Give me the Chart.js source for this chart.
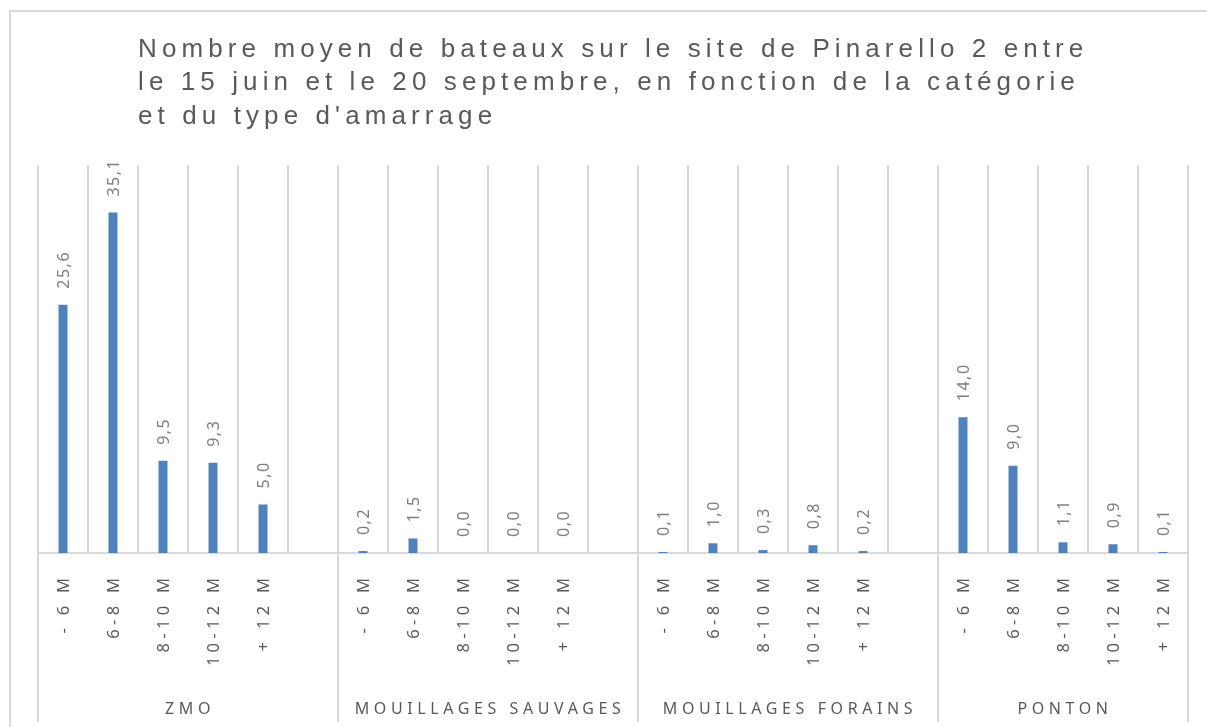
<!DOCTYPE html>
<html>
<head>
<meta charset="utf-8">
<script src="https://cdn.jsdelivr.net/npm/chart.js@4.4.1/dist/chart.umd.min.js"></script>
<style>
  html, body { margin: 0; padding: 0; background: #fff; }
  #wrap { position: relative; width: 1207px; height: 727px; }
  #frame { position: absolute; left: 9px; top: 10px; width: 1210px; height: 730px; border: 2px solid #d9d9d9; box-sizing: border-box; pointer-events: none; }
  canvas { position: absolute; left: 0; top: 0; }
</style>
</head>
<body>
<div id="wrap">
  <canvas id="c" width="1207" height="727"></canvas>
  <div id="frame"></div>
</div>
<script>
// ---- Data ----
const titleLines = [
  "Nombre moyen de bateaux sur le site de Pinarello 2 entre",
  "le 15 juin et le 20 septembre, en fonction de la catégorie",
  "et du type d'amarrage"
];
const groups = ["ZMO", "MOUILLAGES SAUVAGES", "MOUILLAGES FORAINS", "PONTON"];
const sizes = ["- 6 M", "6-8 M", "8-10 M", "10-12 M", "+ 12 M"];
const zmo = [25.6, 35.1, 9.5, 9.3, 5.0];
const sauvages = [0.2, 1.5, 0.0, 0.0, 0.0];
const forains = [0.1, 1.0, 0.3, 0.8, 0.2];
const ponton = [14.0, 9.0, 1.1, 0.9, 0.1];
const yMax = 40;

// Build category list: 5 sizes per group plus an empty spacer between groups
const seriesByGroup = [zmo, sauvages, forains, ponton];
const labels = [];
const values = [];
const groupOf = [];
seriesByGroup.forEach((arr, g) => {
  sizes.forEach((s, i) => { labels.push(s); values.push(arr[i]); groupOf.push(g); });
  if (g < seriesByGroup.length - 1) { labels.push(""); values.push(null); groupOf.push(g); }
});

const TEXT = "#595959";
const LABEL = "#7f7f7f";
const GRID = "#d9d9d9";
const FONT = "'Noto Sans', 'DejaVu Sans', sans-serif";

const decor = {
  id: 'decor',
  afterDraw(chart) {
    const ctx = chart.ctx;
    const xs = chart.scales.x, ys = chart.scales.y;
    const area = chart.chartArea;
    const step = xs.getPixelForValue(1) - xs.getPixelForValue(0);
    ctx.save();

    // Title
    ctx.fillStyle = TEXT;
    ctx.font = "26px 'Liberation Sans', Arial, sans-serif";
    ctx.letterSpacing = "5.1px";
    ctx.textAlign = 'left';
    ctx.textBaseline = 'alphabetic';
    titleLines.forEach((t, i) => ctx.fillText(t, 138, 56.5 + i * 33.5));

    // Group separators below the axis
    ctx.strokeStyle = GRID;
    ctx.lineWidth = 2;
    const bounds = [];
    let start = 0;
    for (let i = 1; i <= labels.length; i++) {
      if (i === labels.length || groupOf[i] !== groupOf[i - 1]) {
        const x0 = xs.getPixelForValue(start) - step / 2;
        const x1 = xs.getPixelForValue(i - 1) + step / 2;
        bounds.push([x0, x1, groupOf[start]]);
        start = i;
      }
    }
    const edges = new Set();
    bounds.forEach(b => { edges.add(Math.round(b[0])); edges.add(Math.round(b[1])); });
    edges.forEach(x => {
      ctx.beginPath();
      ctx.moveTo(x, area.bottom);
      ctx.lineTo(x, 722);
      ctx.stroke();
    });

    // Category labels (rotated)
    ctx.fillStyle = TEXT;
    ctx.font = "16.5px " + FONT;
    ctx.letterSpacing = "4.3px";
    ctx.textAlign = 'right';
    ctx.textBaseline = 'middle';
    labels.forEach((l, i) => {
      if (!l) return;
      const x = xs.getPixelForValue(i);
      ctx.save();
      ctx.translate(x + 1, 578);
      ctx.rotate(-Math.PI / 2);
      ctx.fillText(l, 4.3, 0);
      ctx.restore();
    });

    // Group labels
    ctx.font = "16px " + FONT;
    ctx.letterSpacing = "4.6px";
    ctx.textAlign = 'center';
    ctx.textBaseline = 'middle';
    bounds.forEach(b => {
      ctx.fillText(groups[b[2]], (b[0] + b[1]) / 2 + 2, 709);
    });

    // Data labels (rotated)
    ctx.fillStyle = LABEL;
    ctx.font = "16px " + FONT;
    ctx.letterSpacing = "1.5px";
    ctx.textAlign = 'left';
    ctx.textBaseline = 'middle';
    values.forEach((v, i) => {
      if (v === null) return;
      const x = xs.getPixelForValue(i);
      const y = ys.getPixelForValue(v);
      ctx.save();
      ctx.translate(x + 1, y - 16);
      ctx.rotate(-Math.PI / 2);
      ctx.fillText(v.toFixed(1).replace('.', ','), 0, 0);
      ctx.restore();
    });

    ctx.restore();
  }
};

new Chart(document.getElementById('c'), {
  type: 'bar',
  data: {
    labels: labels,
    datasets: [{
      data: values,
      backgroundColor: '#4f81bd',
      borderWidth: 0,
      barPercentage: 0.18,
      categoryPercentage: 1.0
    }]
  },
  options: {
    responsive: false,
    animation: false,
    events: [],
    layout: { padding: { left: 38, right: 19, top: 165, bottom: 174 } },
    plugins: { legend: { display: false }, title: { display: false }, tooltip: { enabled: false } },
    scales: {
      x: {
        display: true,
        offset: true,
        grid: { display: true, offset: true, color: GRID, lineWidth: 2, drawTicks: false },
        border: { display: true, color: GRID, width: 2 },
        ticks: { display: false }
      },
      y: {
        display: false,
        min: 0,
        max: yMax
      }
    }
  },
  plugins: [decor]
});
</script>
</body>
</html>
